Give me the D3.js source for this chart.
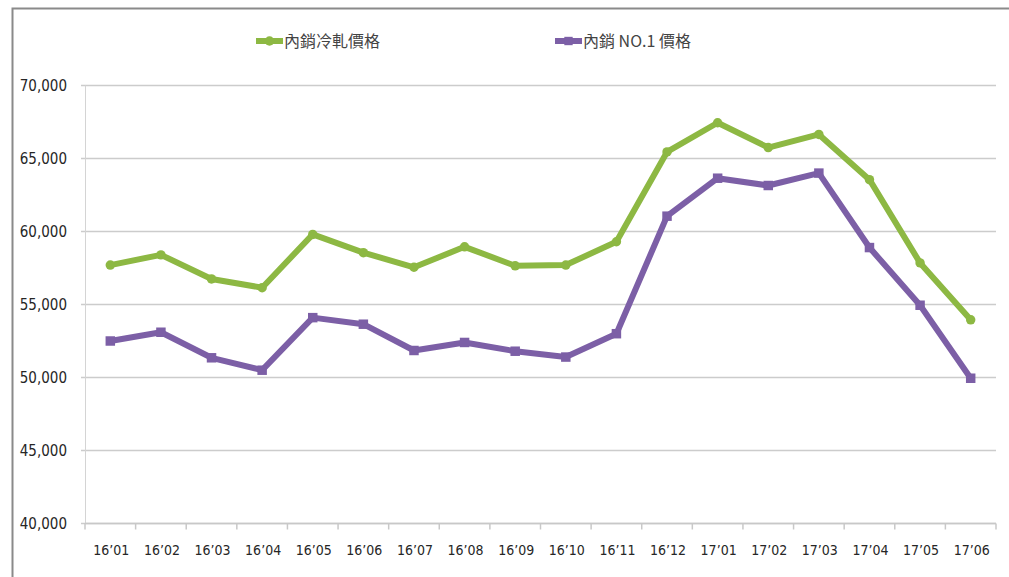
<!DOCTYPE html>
<html>
<head>
<meta charset="utf-8">
<script src="https://cdn.jsdelivr.net/npm/d3@7"></script>
<style>
    body { margin: 0; background: #fff; }
    svg { display: block; }
</style>
</head>
<body>
<div id="chart"></div>
<script>
// Datos
const months = ["16’01", "16’02", "16’03", "16’04", "16’05", "16’06", "16’07", "16’08", "16’09",
    "16’10", "16’11", "16’12", "17’01", "17’02", "17’03", "17’04", "17’05", "17’06"];
const coldRolled = [57700, 58400, 56750, 56150, 59800, 58550, 57550, 58950, 57650,
    57700, 59300, 65450, 67450, 65750, 66650, 63550, 57850, 53950];
const no1Price = [52500, 53100, 51350, 50500, 54100, 53650, 51850, 52400, 51800,
    51400, 53000, 61050, 63650, 63150, 64000, 58900, 54950, 49950];
const yTicks = [40000, 45000, 50000, 55000, 60000, 65000, 70000];
const seriesNames = ["內銷冷軋價格", "內銷 NO.1 價格"];

const width = 1009, height = 577;
const green = "#8db843", purple = "#7c5fa6";

const svg = d3.select("#chart")
    .append("svg")
    .attr("width", width)
    .attr("height", height);

// marco
svg.append("path")
    .attr("d", `M12.5,${height} V8.5 H${width}`)
    .attr("fill", "none")
    .attr("stroke", "#8a8a8a")
    .attr("stroke-width", 2);

const x = d3.scaleBand().domain(months).range([85, 996]);
const y = d3.scaleLinear().domain([40000, 70000]).range([523.5, 85.5]);

// rejilla
svg.append("g")
    .selectAll("line")
    .data(yTicks)
    .enter().append("line")
    .attr("x1", 81)
    .attr("x2", 996)
    .attr("y1", d => y(d))
    .attr("y2", d => y(d))
    .attr("stroke", "#cccccc")
    .attr("stroke-width", 1.5);

// eje Y
svg.append("line")
    .attr("x1", 85.5).attr("x2", 85.5)
    .attr("y1", y(70000)).attr("y2", y(40000))
    .attr("stroke", "#d4d4d4")
    .attr("stroke-width", 1);

svg.append("g")
    .selectAll("text")
    .data(yTicks)
    .enter().append("text")
    .attr("x", 67)
    .attr("y", d => y(d))
    .attr("dy", "0.35em")
    .attr("text-anchor", "end")
    .attr("fill", "#262626")
    .style("font-family", "'Liberation Sans Narrow', 'DejaVu Sans Condensed', sans-serif")
    .style("font-size", "15px")
    .text(d3.format(","));

// eje X
svg.append("line")
    .attr("x1", 85).attr("x2", 996)
    .attr("y1", y(40000)).attr("y2", y(40000))
    .attr("stroke", "#c8c8c8")
    .attr("stroke-width", 1.5);

const tickPos = months.map(m => x(m)).concat([x.range()[1]]);
svg.append("g")
    .selectAll("line")
    .data(tickPos)
    .enter().append("line")
    .attr("x1", d => d).attr("x2", d => d)
    .attr("y1", y(40000)).attr("y2", y(40000) + 6)
    .attr("stroke", "#c8c8c8")
    .attr("stroke-width", 1.5);

svg.append("g")
    .selectAll("text")
    .data(months)
    .enter().append("text")
    .attr("x", d => x(d) + x.bandwidth() / 2 + 1)
    .attr("y", 550)
    .attr("dy", "0.35em")
    .attr("text-anchor", "middle")
    .attr("fill", "#262626")
    .style("font-family", "'Liberation Sans Narrow', 'DejaVu Sans Condensed', sans-serif")
    .style("font-size", "14px")
    .text(d => d);

// series
const line = d3.line()
    .x((d, i) => x(months[i]) + x.bandwidth() / 2)
    .y(d => y(d));

function drawSeries(values, color, shape) {
    svg.append("path")
        .datum(values)
        .attr("fill", "none")
        .attr("stroke", color)
        .attr("stroke-width", 6)
        .attr("stroke-linejoin", "round")
        .attr("d", line);

    const sym = d3.symbol().type(shape).size(shape === d3.symbolSquare ? 90 : 70);
    svg.append("g")
        .selectAll("path")
        .data(values)
        .enter().append("path")
        .attr("d", sym)
        .attr("fill", color)
        .attr("transform", (d, i) => `translate(${x(months[i]) + x.bandwidth() / 2},${y(d)})`);
}

drawSeries(coldRolled, green, d3.symbolCircle);
drawSeries(no1Price, purple, d3.symbolSquare);

// leyenda
const legend = [
    { name: seriesNames[0], color: green, shape: d3.symbolCircle, x: 256 },
    { name: seriesNames[1], color: purple, shape: d3.symbolSquare, x: 555 }
];

const lg = svg.append("g")
    .selectAll("g")
    .data(legend)
    .enter().append("g")
    .attr("transform", d => `translate(${d.x},41)`);

lg.append("line")
    .attr("x1", 0).attr("x2", 27)
    .attr("stroke", d => d.color)
    .attr("stroke-width", 6);

lg.append("path")
    .attr("d", d => d3.symbol().type(d.shape).size(70)())
    .attr("transform", "translate(13.5,0)")
    .attr("fill", d => d.color);

lg.append("text")
    .attr("x", 28)
    .attr("dy", "0.35em")
    .attr("fill", "#444")
    .style("font-family", "'Noto Sans CJK TC', 'Noto Sans', sans-serif")
    .style("font-size", "16px")
    .text(d => d.name);
</script>
</body>
</html>
